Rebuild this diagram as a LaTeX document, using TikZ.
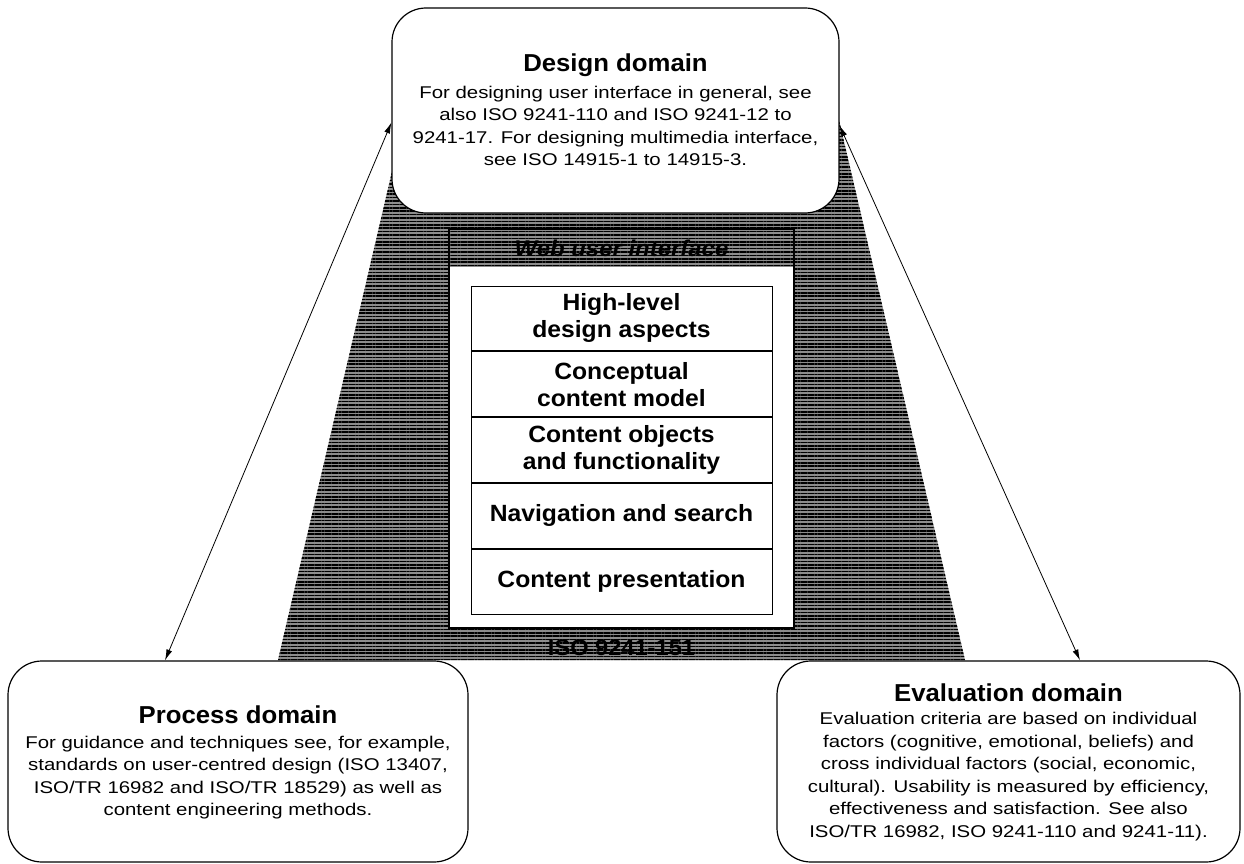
\documentclass[tikz,border=0pt]{standalone}
\usepackage{fontspec}
\setmainfont{Liberation Sans}[FakeStretch=1.2]
\newfontfamily\headfont{Liberation Sans}[FakeStretch=1.05]
\usetikzlibrary{positioning,arrows.meta,patterns.meta}

\tikzset{
    domainbox/.style={draw, line width=1.2pt, rounded corners=34pt, fill=white, inner sep=0pt},
    head/.style={font=\headfont\fontsize{24.5}{28}\selectfont\bfseries},
    body/.style={align=center, font=\fontsize{17}{22.6}\selectfont},
    layer/.style={draw, line width=1pt, fill=white, minimum width=301pt, minimum height=64.8pt, inner sep=0pt, align=center, font=\headfont\fontsize{23.5}{27}\selectfont\bfseries},
    texture/.style={preaction={fill=black!45}, pattern={Lines[angle=0,distance=3.4pt,line width=1.6pt]}, pattern color=black},
    link/.style={{Latex[length=11pt,width=6pt]}-{Latex[length=11pt,width=6pt]}, line width=0.8pt},
}

\begin{document}
\begin{tikzpicture}[x=1pt,y=-1pt]
    \useasboundingbox (0,0) rectangle (1244,864);

    % shaded area behind the web user interface
    \path[texture] (404,120) -- (839,120) -- (965,660) -- (278,660) -- cycle;

    \node[domainbox, minimum width=447pt, minimum height=205pt] (design) at (615.5,110.5) {};
    \node[head] (designhead) at (615.5,65) {Design domain};
    \node[body] (designtxt) at (615.5,126) {For designing user interface in general, see\\ also ISO 9241-110 and ISO 9241-12 to\\ 9241-17. For designing multimedia interface,\\ see ISO 14915-1 to 14915-3.};

    % web user interface frame
    \fill[white] (449,267) rectangle (794,628);
    \node[draw, line width=1.4pt, minimum width=345pt, minimum height=399pt, inner sep=0pt] (web) at (621.5,428.5) {};
    \node[font=\headfont\fontsize{22.8}{26}\selectfont\bfseries\itshape] (webhead) at (621.5,248) {Web user interface};

    \node[layer] (high) at (621.5,318.4) {High-level\\ design aspects};
    \node[layer, below=0pt of high] (concept) {Conceptual\\ content model};
    \node[layer, below=0pt of concept] (objects) {Content objects\\ and functionality};
    \node[layer, below=0pt of objects] (navigation) {Navigation and search};
    \node[layer, below=0pt of navigation] (presentation) {Content presentation};

    \node[font=\headfont\fontsize{22.5}{26}\selectfont\bfseries] (iso) at (621.5,648) {ISO 9241-151};

    \node[domainbox, minimum width=460pt, minimum height=201pt] (process) at (238,761.5) {};
    \node[head] (processhead) at (238,715) {Process domain};
    \node[body] (processtxt) at (238,777.5) {For guidance and techniques see, for example,\\ standards on user-centred design (ISO 13407,\\ ISO/TR 16982 and ISO/TR 18529) as well as\\ content engineering methods.};

    \node[domainbox, minimum width=463pt, minimum height=201pt] (evaluation) at (1008.5,761.5) {};
    \node[head] (evaluationhead) at (1008.5,693) {Evaluation domain};
    \node[body] (evaluationtxt) at (1008.5,776.5) {Evaluation criteria are based on individual\\ factors (cognitive, emotional, beliefs) and\\ cross individual factors (social, economic,\\ cultural). Usability is measured by efficiency,\\ effectiveness and satisfaction. See also\\ ISO/TR 16982, ISO 9241-110 and 9241-11).};

    \draw[link] ([yshift=-12pt]design.west) to ([xshift=-73pt]process.north);
    \draw[link] ([yshift=-15pt]design.east) to ([xshift=71.5pt]evaluation.north);
\end{tikzpicture}
\end{document}
